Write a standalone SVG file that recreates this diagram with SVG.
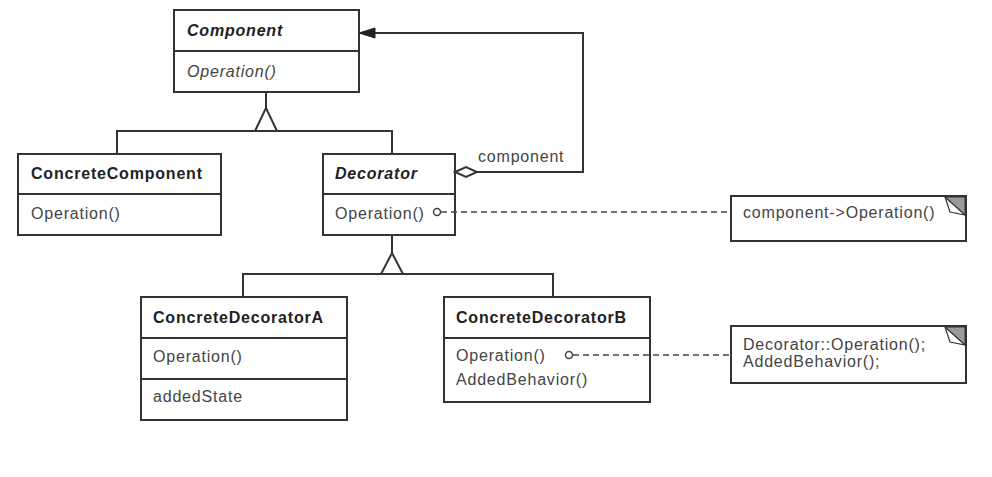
<svg xmlns="http://www.w3.org/2000/svg" width="992" height="477" viewBox="0 0 992 477">
<style>
.box{fill:#fff;stroke:#333;stroke-width:2}
.div{stroke:#333;stroke-width:2}
.ln{fill:none;stroke:#333;stroke-width:2}
.dash{fill:none;stroke:#444;stroke-width:1.6;stroke-dasharray:6 4}
.t{font-family:"Liberation Sans",Arial,sans-serif;font-size:16px;letter-spacing:0.8px;fill:#444}
.b{font-weight:bold;fill:#222}
.i{font-style:italic}
.tri{fill:#fff;stroke:#333;stroke-width:2}
.dot{fill:#fff;stroke:#444;stroke-width:1.5}
.fold{fill:#999;stroke:#333;stroke-width:1}
.flap{fill:#fff;stroke:#333;stroke-width:1.2}
</style>
<rect width="992" height="477" fill="#fff"/>
<g id="Component">
  <rect class="box" x="174" y="10" width="185" height="82"/>
  <line class="div" x1="174" y1="51" x2="359" y2="51"/>
  <text class="t b i" x="187" y="36">Component</text>
  <text class="t i" x="187" y="77">Operation()</text>
</g>
<g id="ConcreteComponent">
  <rect class="box" x="18" y="154" width="203" height="81"/>
  <line class="div" x1="18" y1="194" x2="221" y2="194"/>
  <text class="t b" x="31" y="179">ConcreteComponent</text>
  <text class="t" x="31" y="219">Operation()</text>
</g>
<g id="Decorator">
  <rect class="box" x="323" y="154" width="132" height="81"/>
  <line class="div" x1="323" y1="194" x2="455" y2="194"/>
  <text class="t b i" x="335" y="179">Decorator</text>
  <text class="t" x="335" y="219">Operation()</text>
</g>
<g id="ConcreteDecoratorA">
  <rect class="box" x="141" y="297" width="206" height="123"/>
  <line class="div" x1="141" y1="338" x2="347" y2="338"/>
  <line class="div" x1="141" y1="379" x2="347" y2="379"/>
  <text class="t b" x="153" y="323">ConcreteDecoratorA</text>
  <text class="t" x="153" y="362">Operation()</text>
  <text class="t" x="153" y="402">addedState</text>
</g>
<g id="ConcreteDecoratorB">
  <rect class="box" x="444" y="297" width="206" height="105"/>
  <line class="div" x1="444" y1="338" x2="650" y2="338"/>
  <text class="t b" x="456" y="323">ConcreteDecoratorB</text>
  <text class="t" x="456" y="361">Operation()</text>
  <text class="t" x="456" y="385">AddedBehavior()</text>
</g>
<g id="note1">
  <rect class="box" x="731" y="196" width="235" height="45"/>
  <polygon class="fold" points="945,197 965,197 965,215"/>
  <polygon class="flap" points="945,197 950,212 965,215"/>
  <text class="t" x="743" y="218">component-&gt;Operation()</text>
</g>
<g id="note2">
  <rect class="box" x="731" y="326" width="235" height="57"/>
  <polygon class="fold" points="945,327 965,327 965,345"/>
  <polygon class="flap" points="945,327 950,342 965,345"/>
  <text class="t" x="743" y="350">Decorator::Operation();</text>
  <text class="t" x="743" y="367">AddedBehavior();</text>
</g>
<g id="connectors">
  <polyline class="ln" points="266,92 266,108"/>
  <polyline class="ln" points="117,154 117,131 392,131 392,154"/>
  <polygon class="tri" points="266,108 255,131 277,131"/>
  <polyline class="ln" points="392,235 392,253"/>
  <polyline class="ln" points="243,297 243,274 553,274 553,297"/>
  <polygon class="tri" points="392,253 381,274 403,274"/>
  <polyline class="ln" points="477,172 583,172 583,33 375,33"/>
  <polygon points="359,33 375,28 375,38" fill="#222" stroke="#222" stroke-width="1"/>
  <polygon class="tri" points="455,172 466,167 477,172 466,177"/>
  <text class="t" x="478" y="162">component</text>
  <line class="dash" x1="441" y1="212" x2="731" y2="212"/>
  <circle class="dot" cx="437" cy="212" r="3.5"/>
  <line class="dash" x1="573" y1="355" x2="731" y2="355"/>
  <circle class="dot" cx="569" cy="355" r="3.5"/>
</g>
</svg>
